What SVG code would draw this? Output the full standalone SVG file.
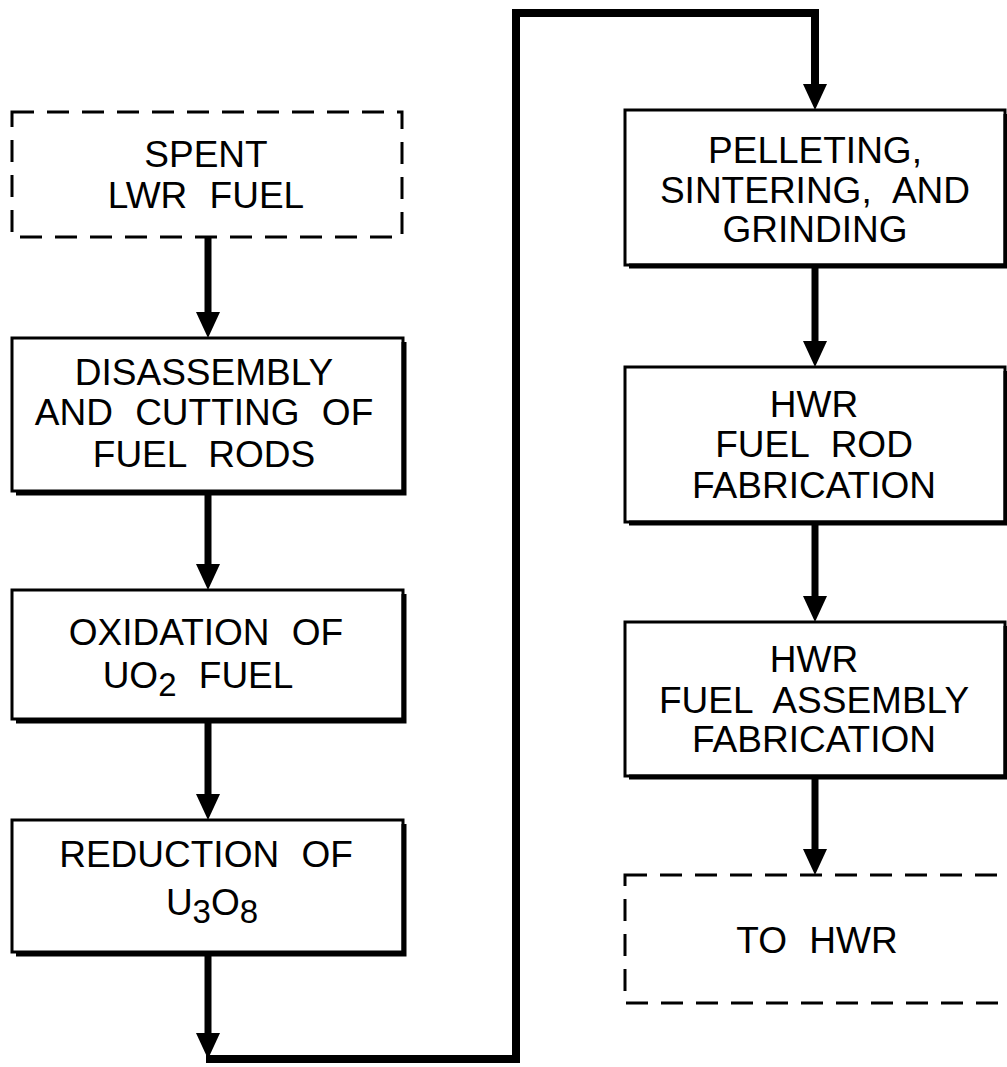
<svg xmlns="http://www.w3.org/2000/svg" width="1007" height="1067" viewBox="0 0 1007 1067">
  <style>
    .box { fill: #fff; stroke: #000; stroke-width: 3; }
    .dash { fill: #fff; stroke: #000; stroke-width: 3; stroke-dasharray: 22 13; }
    .shadow { fill: none; stroke: #000; stroke-width: 5; stroke-linejoin: miter; }
    .flow { fill: none; stroke: #000; stroke-width: 7; stroke-linejoin: miter; }
    .loop { fill: none; stroke: #000; stroke-width: 8; stroke-linejoin: miter; stroke-linecap: square; }
    text { font-family: "Liberation Sans", Arial, sans-serif; font-size: 37px; fill: #000; text-anchor: middle; word-spacing: 12px; }
    .sub { font-size: 33px; }
  </style>
  <defs>
    <marker id="ah" viewBox="0 0 26 24" markerWidth="26" markerHeight="24" refX="16" refY="12" orient="auto" markerUnits="userSpaceOnUse">
      <path d="M0,0 L26,12 L0,24 Z" fill="#000"/>
    </marker>
  </defs>

  <rect width="1007" height="1067" fill="#fff"/>

  <!-- connectors -->
  <g id="connectors">
    <line class="flow" x1="208" y1="237" x2="208" y2="328" marker-end="url(#ah)"/>
    <line class="flow" x1="208" y1="492" x2="208" y2="580" marker-end="url(#ah)"/>
    <line class="flow" x1="208" y1="720" x2="208" y2="810" marker-end="url(#ah)"/>
    <line class="flow" x1="208" y1="953" x2="208" y2="1049" marker-end="url(#ah)"/>
    <path class="loop" d="M210,1059 H516 V13 H815 V96"/>
    <line class="flow" x1="815" y1="90" x2="815" y2="100" marker-end="url(#ah)"/>
    <line class="flow" x1="815" y1="266" x2="815" y2="357" marker-end="url(#ah)"/>
    <line class="flow" x1="815" y1="523" x2="815" y2="612" marker-end="url(#ah)"/>
    <line class="flow" x1="815" y1="777" x2="815" y2="865" marker-end="url(#ah)"/>
  </g>

  <!-- left column -->
  <g id="spent-lwr-fuel">
    <rect class="dash" x="12" y="112" width="390" height="125"/>
    <text x="206" y="167">SPENT</text>
    <text x="206" y="208">LWR FUEL</text>
  </g>

  <g id="disassembly">
    <rect class="box" x="12" y="338" width="391" height="153"/>
    <path class="shadow" d="M404,342 V493 H16"/>
    <text x="204" y="385">DISASSEMBLY</text>
    <text x="204" y="425">AND CUTTING OF</text>
    <text x="204" y="467">FUEL RODS</text>
  </g>

  <g id="oxidation">
    <rect class="box" x="12" y="590" width="391" height="129"/>
    <path class="shadow" d="M404,594 V721 H16"/>
    <text x="206" y="645">OXIDATION OF</text>
    <text x="198" y="688">UO<tspan class="sub" dy="8">2</tspan><tspan dy="-8"> FUEL</tspan></text>
  </g>

  <g id="reduction">
    <rect class="box" x="12" y="820" width="391" height="132"/>
    <path class="shadow" d="M404,824 V954 H16"/>
    <text x="206" y="867">REDUCTION OF</text>
    <text x="212" y="915">U<tspan class="sub" dy="8">3</tspan><tspan dy="-8">O</tspan><tspan class="sub" dy="8">8</tspan></text>
  </g>

  <!-- right column -->
  <g id="pelleting">
    <rect class="box" x="625" y="110" width="380" height="155"/>
    <path class="shadow" d="M1006,114 V266 H629"/>
    <text x="815" y="163">PELLETING,</text>
    <text x="815" y="203">SINTERING, AND</text>
    <text x="815" y="242">GRINDING</text>
  </g>

  <g id="hwr-fuel-rod">
    <rect class="box" x="625" y="367" width="380" height="155"/>
    <path class="shadow" d="M1006,371 V523 H629"/>
    <text x="814" y="417">HWR</text>
    <text x="814" y="457">FUEL ROD</text>
    <text x="814" y="498">FABRICATION</text>
  </g>

  <g id="hwr-fuel-assembly">
    <rect class="box" x="625" y="622" width="380" height="154"/>
    <path class="shadow" d="M1006,626 V777 H629"/>
    <text x="814" y="672">HWR</text>
    <text x="814" y="713">FUEL ASSEMBLY</text>
    <text x="814" y="752">FABRICATION</text>
  </g>

  <g id="to-hwr">
    <rect class="dash" x="625" y="875" width="385" height="128"/>
    <text x="817" y="953">TO HWR</text>
  </g>
</svg>
